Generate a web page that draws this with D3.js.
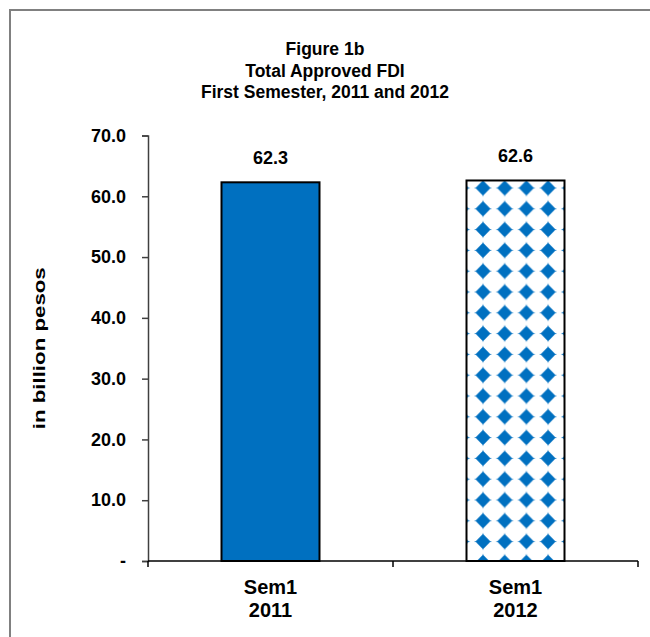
<!DOCTYPE html>
<html>
<head>
<meta charset="utf-8">
<script src="https://cdn.jsdelivr.net/npm/d3@7"></script>
<style>
  body { margin: 0; background: #fff; }
  text { font-family: "Liberation Sans", Arial, sans-serif; font-weight: bold; fill: #000; }
</style>
</head>
<body>
<div id="chart"></div>
<script>
// data
var categories = ["Sem1|2011", "Sem1|2012"];
var values = [62.3, 62.6];
var yTicks = [0, 10, 20, 30, 40, 50, 60, 70];
var titleLines = ["Figure 1b", "Total Approved FDI", "First Semester, 2011 and 2012"];

var W = 650, H = 637;
var margin = { top: 135.5, right: 12, bottom: 76, left: 148 },
  width = W - margin.left - margin.right,
  height = H - margin.top - margin.bottom;

var svg = d3.select("#chart").append("svg")
  .attr("width", W)
  .attr("height", H);

// frame
svg.append("path")
  .attr("d", "M10,637 V10 H650")
  .attr("fill", "none")
  .attr("stroke", "#808080")
  .attr("stroke-width", 2);

// diamond pattern (coords are relative to the chart group)
var pw = 21.7, ph = 20.8;
var defs = svg.append("defs");
defs.append("filter").attr("id", "soft")
  .append("feGaussianBlur").attr("stdDeviation", 0.7);
var pat = defs.append("pattern")
  .attr("id", "diamonds")
  .attr("patternUnits", "userSpaceOnUse")
  .attr("x", 461.3 - margin.left - pw / 2)
  .attr("y", 188 - margin.top - ph / 2)
  .attr("width", pw)
  .attr("height", ph);
pat.append("rect").attr("width", pw).attr("height", ph).attr("fill", "#fff");
pat.append("path")
  .attr("d", "M10.85,1.6 Q11.6,9.2 19.8,10.4 Q11.6,11.6 10.85,19.2 Q10.1,11.6 1.9,10.4 Q10.1,9.2 10.85,1.6 Z" +
             " M10.85,2.8 L18.4,10.4 L10.85,18 L3.3,10.4 Z")
  .attr("fill", "#0070C0")
  .attr("filter", "url(#soft)");

// title
svg.selectAll(".title")
  .data(titleLines)
  .enter()
  .append("text")
  .attr("class", "title")
  .attr("x", 325)
  .attr("y", function (d, i) { return 55 + i * 21.5; })
  .attr("text-anchor", "middle")
  .style("font-size", "17.5px")
  .text(function (d) { return d; });

var g = svg.append("g")
  .attr("transform", "translate(" + margin.left + "," + margin.top + ")");

var x = d3.scaleBand().domain(categories).range([0, width]).paddingInner(0.6).paddingOuter(0.3);
var y = d3.scaleLinear().domain([0, 70]).range([height, 0]);

// y axis
var yAxis = g.append("g")
  .call(d3.axisLeft(y).tickValues(yTicks).tickSize(6).tickPadding(16)
    .tickFormat(function (d) { return d === 0 ? "-" : d3.format(".1f")(d); }));
yAxis.select(".domain").attr("stroke", "#404040").attr("stroke-width", 1.5);
yAxis.selectAll(".tick line").attr("stroke", "#404040").attr("stroke-width", 1.5);
yAxis.selectAll(".tick text")
  .style("font-size", "18px")
  .style("font-family", "'Liberation Sans', Arial, sans-serif")
  .style("font-weight", "bold")
  .attr("fill", "#000");

// y title
svg.append("text")
  .attr("transform", "translate(45," + (margin.top + height / 2) + ") rotate(-90)")
  .attr("text-anchor", "middle")
  .attr("textLength", 162)
  .attr("lengthAdjust", "spacingAndGlyphs")
  .style("font-size", "16.5px")
  .text("in billion pesos");

// bars
g.selectAll(".bar")
  .data(values)
  .enter()
  .append("rect")
  .attr("class", "bar")
  .attr("x", function (d, i) { return x(categories[i]); })
  .attr("y", function (d) { return y(d); })
  .attr("width", x.bandwidth())
  .attr("height", function (d) { return height - y(d); })
  .attr("fill", function (d, i) { return i === 0 ? "#0070C0" : "url(#diamonds)"; })
  .attr("stroke", "#000")
  .attr("stroke-width", 2);

// value labels
g.selectAll(".val")
  .data(values)
  .enter()
  .append("text")
  .attr("class", "val")
  .attr("x", function (d, i) { return x(categories[i]) + x.bandwidth() / 2; })
  .attr("y", function (d) { return y(d) - 18; })
  .attr("text-anchor", "middle")
  .style("font-size", "18px")
  .text(function (d) { return d3.format(".1f")(d); });

// x axis (ticks between categories)
var step = width / categories.length;
g.append("line")
  .attr("x1", 0).attr("x2", width)
  .attr("y1", height).attr("y2", height)
  .attr("stroke", "#000").attr("stroke-width", 1.5);
g.selectAll(".xtick")
  .data(d3.range(categories.length + 1))
  .enter()
  .append("line")
  .attr("x1", function (d) { return d * step; })
  .attr("x2", function (d) { return d * step; })
  .attr("y1", height).attr("y2", height + 6)
  .attr("stroke", "#000").attr("stroke-width", 1.5);

// x labels
var xl = g.selectAll(".xlab")
  .data(categories)
  .enter()
  .append("text")
  .attr("class", "xlab")
  .attr("text-anchor", "middle")
  .style("font-size", "20px");
xl.selectAll("tspan")
  .data(function (d) {
    var cx = x(d) + x.bandwidth() / 2;
    return d.split("|").map(function (s) { return { s: s, cx: cx }; });
  })
  .enter()
  .append("tspan")
  .attr("x", function (d) { return d.cx; })
  .attr("y", function (d, i) { return height + 33 + i * 23; })
  .text(function (d) { return d.s; });
</script>
</body>
</html>
